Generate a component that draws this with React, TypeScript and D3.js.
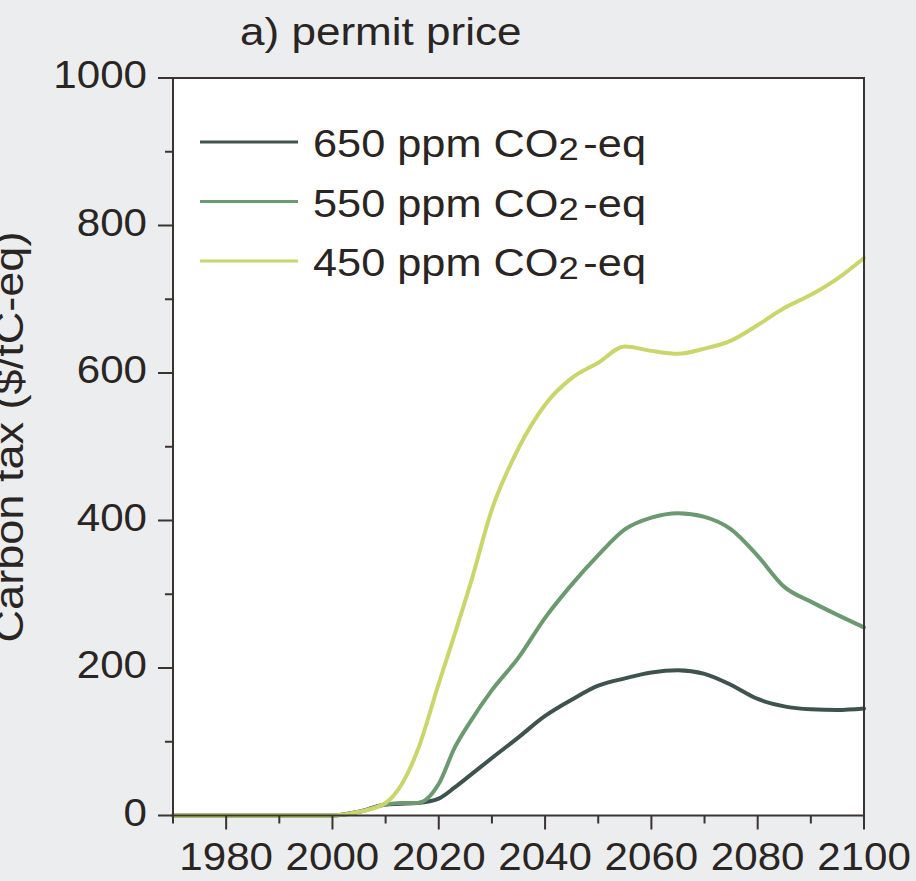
import React from "react";
import * as d3 from "d3";

const years = [1970, 1980, 1990, 2000, 2005, 2010, 2013, 2016, 2020, 2023, 2026, 2030, 2035, 2040, 2045, 2050, 2055, 2060, 2065, 2070, 2075, 2080, 2085, 2090, 2095, 2100];
const ppm650 = [0, 0, 0, 0, 5, 15, 16, 17, 23, 38, 55, 78, 106, 135, 157, 176, 186, 194, 197, 192, 177, 158, 148, 144, 143, 145];
const ppm550 = [0, 0, 0, 0, 5, 15, 17, 17, 43, 92, 128, 170, 214, 268, 313, 353, 388, 404, 410, 405, 388, 352, 310, 290, 272, 255];
const ppm450 = [0, 0, 0, 0, 5, 17, 42, 88, 179, 246, 315, 415, 498, 557, 593, 614, 636, 630, 626, 633, 644, 665, 688, 706, 728, 756];

const seriesNames = ["650 ppm CO", "550 ppm CO", "450 ppm CO"];
const seriesColors = ["#3e534d", "#6c9a70", "#cad56c"];
const yTicks = [0, 200, 400, 600, 800, 1000];
const yMinor = [100, 300, 500, 700, 900];
const xTicks = [1980, 2000, 2020, 2040, 2060, 2080, 2100];
const xMinor = [1970, 1990, 2010, 2030, 2050, 2070, 2090];
const title = "a) permit price";
const yLabel = "Carbon tax ($/tC-eq)";

export default function App() {
  const W = 916, H = 881;
  const x = d3.scaleLinear().domain([1970, 2100]).range([173, 864]);
  const y = d3.scaleLinear().domain([0, 1000]).range([815.5, 78]);
  const line = d3
    .line<number>()
    .x((_, i) => x(years[i]))
    .y((d) => y(d))
    .curve(d3.curveMonotoneX);
  const series = [ppm650, ppm550, ppm450];
  const axisColor = "#3b3331";
  const textColor = "#2a2523";
  const font = "'Liberation Sans', Arial, Helvetica, sans-serif";
  return (
    <svg width={W} height={H} style={{ position: "absolute", left: 0, top: 0 }} fontFamily={font}>
      <rect x={0} y={0} width={W} height={H} fill="#ebedef" />
      <rect x={x(1970)} y={y(1000)} width={x(2100) - x(1970)} height={y(0) - y(1000)} fill="#ffffff" />
      {/* title */}
      <g transform={`translate(240,45) scale(1.16,1)`}>
        <text fontSize={38} fill={textColor}>{title}</text>
      </g>
      {/* y label */}
      <g transform={`translate(23,${437}) rotate(-90) scale(1.1,1)`}>
        <text fontSize={41} fill={textColor} textAnchor="middle">{yLabel}</text>
      </g>
      {/* data lines */}
      <g>
        {series.map((s, i) => (
          <path key={i} d={line(s) || ""} fill="none" stroke={seriesColors[i]} strokeWidth={4} strokeLinejoin="round" strokeLinecap="round" />
        ))}
      </g>
      {/* frame */}
      <rect x={x(1970)} y={y(1000)} width={x(2100) - x(1970)} height={y(0) - y(1000)} fill="none" stroke={axisColor} strokeWidth={2} />
      {/* y ticks */}
      {yTicks.map((t) => (
        <g key={"yt" + t}>
          <line x1={x(1970) - 15} x2={x(1970)} y1={y(t)} y2={y(t)} stroke={axisColor} strokeWidth={2} />
          <g transform={`translate(147,${y(t) + 10}) scale(1.08,1)`}>
            <text fontSize={39} fill={textColor} textAnchor="end">{t}</text>
          </g>
        </g>
      ))}
      {yMinor.map((t) => (
        <line key={"ym" + t} x1={x(1970) - 8} x2={x(1970)} y1={y(t)} y2={y(t)} stroke={axisColor} strokeWidth={2} />
      ))}
      {/* x ticks */}
      {xTicks.map((t) => (
        <g key={"xt" + t}>
          <line x1={x(t)} x2={x(t)} y1={y(0)} y2={y(0) + 14} stroke={axisColor} strokeWidth={2} />
          <g transform={`translate(${x(t)},870) scale(1.08,1)`}>
            <text fontSize={39} fill={textColor} textAnchor="middle">{t}</text>
          </g>
        </g>
      ))}
      {xMinor.map((t) => (
        <line key={"xm" + t} x1={x(t)} x2={x(t)} y1={y(0)} y2={y(0) + 8} stroke={axisColor} strokeWidth={2} />
      ))}
      {/* legend */}
      {seriesNames.map((n, i) => (
        <g key={"lg" + i}>
          <line x1={200} x2={298} y1={142 + i * 59.5} y2={142 + i * 59.5} stroke={seriesColors[i]} strokeWidth={3} />
          <g transform={`translate(313,${157 + i * 59.5}) scale(1.14,1)`}>
            <text fontSize={38} fill={textColor}>
              {n}
              <tspan fontSize={32} dy={3}>2</tspan>
              <tspan dy={-3} dx={4}>-eq</tspan>
            </text>
          </g>
        </g>
      ))}
    </svg>
  );
}
